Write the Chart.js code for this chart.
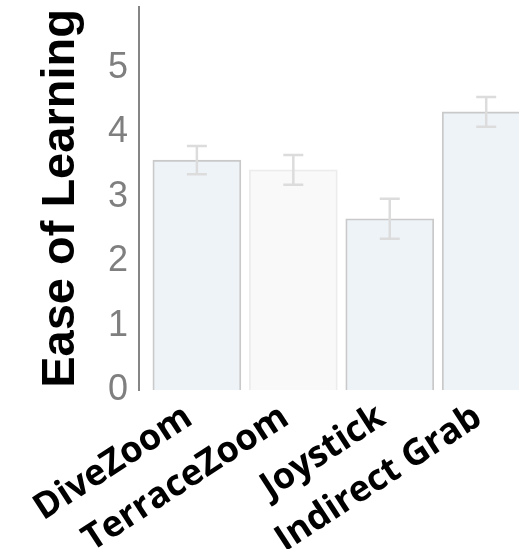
<!DOCTYPE html>
<html>
<head>
<meta charset="utf-8">
<script src="https://cdn.jsdelivr.net/npm/chart.js@4"></script>
<style>
  html, body { margin: 0; padding: 0; background: #fff; overflow: hidden; }
  #wrap { width: 519px; height: 549px; }
</style>
</head>
<body>
<div id="wrap"><canvas id="easeChart" width="519" height="549"></canvas></div>
<script>
// Data
const techniques = ['DiveZoom', 'TerraceZoom', 'Joystick', 'Indirect Grab'];
const easeMeans = [3.57, 3.42, 2.66, 4.32];
const easeErrors = [0.22, 0.23, 0.31, 0.23];
const yTicks = [0, 1, 2, 3, 4, 5];

const fillColors = ['#eef3f8', '#f9f9f9', '#eef3f8', '#eef3f8'];
const edgeColors = ['#c9c9c9', '#ececec', '#c9c9c9', '#c9c9c9'];

// Draw error bars from the means/errors using the chart's scales
const errorBarPlugin = {
    id: 'errorBars',
    afterDatasetsDraw(chart) {
        const ctx = chart.ctx;
        const xs = chart.scales.x;
        const ys = chart.scales.y;
        ctx.save();
        ctx.strokeStyle = '#dcdcdc';
        ctx.lineWidth = 2.5;
        easeMeans.forEach((m, i) => {
            const x = xs.getPixelForValue(i);
            const top = ys.getPixelForValue(m + easeErrors[i]);
            const bot = ys.getPixelForValue(m - easeErrors[i]);
            ctx.beginPath();
            ctx.moveTo(x, top); ctx.lineTo(x, bot);
            ctx.moveTo(x - 10, top); ctx.lineTo(x + 10, top);
            ctx.moveTo(x - 10, bot); ctx.lineTo(x + 10, bot);
            ctx.stroke();
        });
        ctx.restore();
    }
};

const ctx = document.getElementById('easeChart').getContext('2d');
new Chart(ctx, {
    type: 'bar',
    data: {
        datasets: [{
            data: easeMeans.map((v, i) => ({ x: i, y: v })),
            backgroundColor: fillColors,
            borderColor: edgeColors,
            borderWidth: 1.8,
            barThickness: 88
        }]
    },
    options: {
        responsive: false,
        animation: false,
        layout: { padding: { top: 7, left: 0, right: 0, bottom: 0 }, autoPadding: false },
        plugins: { legend: { display: false }, tooltip: { enabled: false } },
        scales: {
            x: {
                type: 'linear',
                offset: false,
                min: -0.6,
                max: 3.34,
                grid: { display: false, drawTicks: false, offset: false },
                border: { display: false },
                afterBuildTicks: s => { s.ticks = techniques.map((_, i) => ({ value: i })); },
                afterFit: s => { s.height = 159; s.paddingLeft = 0; s.paddingRight = 0; },
                ticks: {
                    autoSkip: false,
                    maxRotation: 33,
                    minRotation: 33,
                    padding: 6,
                    labelOffset: -8,
                    color: '#000',
                    font: { family: 'Open Sans', weight: 'bold', size: 36 },
                    callback: v => techniques[v]
                }
            },
            y: {
                min: 0,
                max: 5.95,
                grid: { display: false, drawTicks: false },
                border: { display: true, color: '#858585', width: 2 },
                afterBuildTicks: s => { s.ticks = yTicks.map(v => ({ value: v })); },
                afterFit: s => { s.width = 139; s.paddingTop = 0; s.paddingBottom = 0; },
                title: {
                    display: true,
                    text: 'Ease of Learning',
                    color: '#000',
                    font: { family: 'Liberation Sans', weight: 'bold', size: 47 },
                    padding: { top: 33, bottom: 0 }
                },
                ticks: {
                    padding: 11,
                    color: '#7f7f7f',
                    font: { family: 'Liberation Sans', size: 36 }
                }
            }
        }
    },
    plugins: [errorBarPlugin]
});
</script>
</body>
</html>
